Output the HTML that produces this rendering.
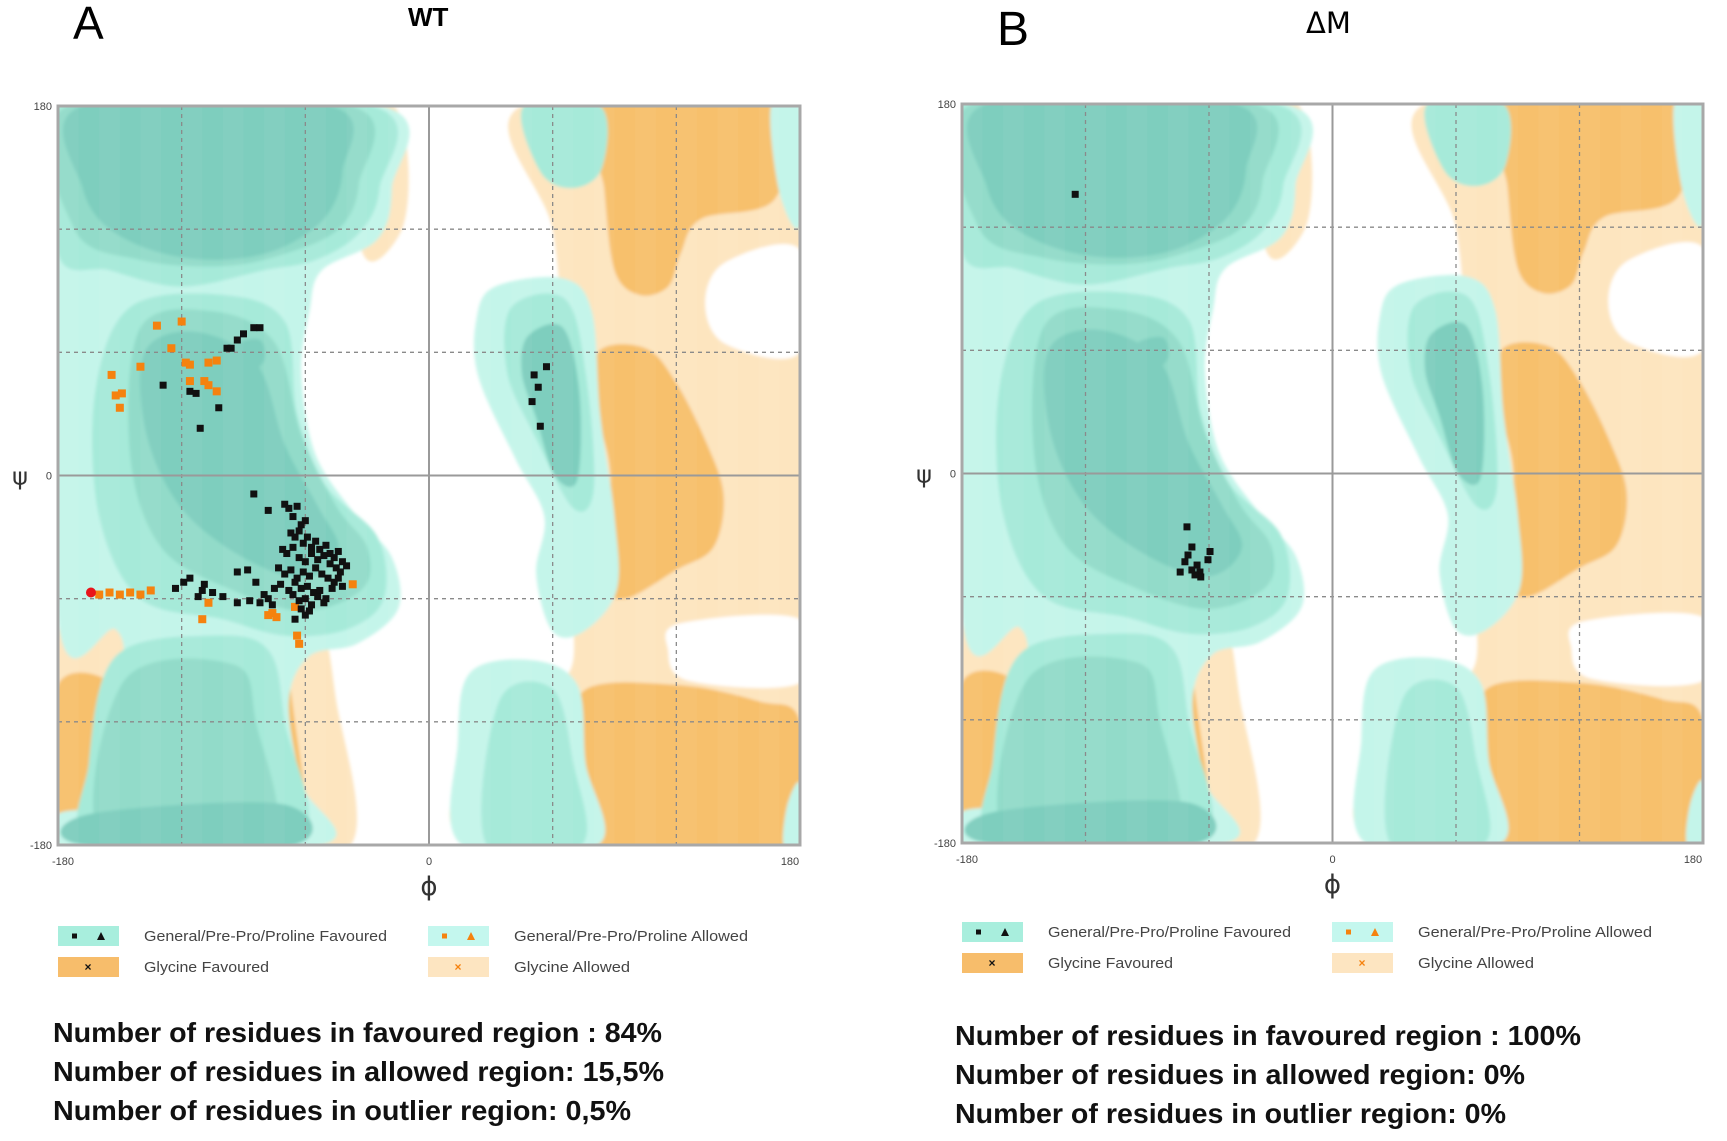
<!DOCTYPE html>
<html><head><meta charset="utf-8"><style>
html,body{margin:0;padding:0;background:#fff;}
body{width:1727px;height:1141px;overflow:hidden;font-family:"Liberation Sans",sans-serif;}
svg{position:absolute;left:0;top:0;}
</style></head><body>
<svg id="fig" width="1727" height="1141" viewBox="0 0 1727 1141" xmlns="http://www.w3.org/2000/svg">
<defs><filter id="soft" x="-5%" y="-5%" width="110%" height="110%"><feGaussianBlur stdDeviation="1.6"/></filter></defs>
</svg>
<script>
// ===== Data: panel A (WT) =====
const favPhiA = [-85,-82,-90,-93,-98,-96,-129,-116,-113,-102,-111,
 57,51,53,50,54,
 -85,-78,-70,-68,-66,-64,-62,-60,-67,-65,-63,-61,-59,-57,-55,-53,-50,-48,-46,-44,-42,-40,-71,-69,-66,-63,-60,-57,-54,-51,-48,-45,-73,-70,-67,-64,-61,-58,-55,-52,-49,-46,-43,-75,-72,-68,-65,-62,-59,-56,-53,-50,-47,-66,-63,-60,-57,-54,-51,-62,-60,-58,-65,-44,-42,
 -123,-116,-109,-105,-100,-93,-87,-82,-78,-112,-93,-88,-84,-80,-76,-119,-110];
const favPsiA = [72,72,69,66,62,62,44,41,40,33,23,
 53,49,43,36,24,
 -9,-17,-14,-16,-20,-15,-24,-22,-28,-30,-27,-33,-30,-35,-32,-36,-34,-38,-40,-37,-42,-44,-36,-38,-35,-40,-42,-38,-41,-39,-43,-45,-45,-48,-46,-50,-47,-49,-45,-48,-50,-52,-47,-55,-53,-56,-52,-55,-54,-57,-56,-60,-55,-58,-61,-60,-63,-59,-62,-65,-68,-66,-70,-50,-54,
 -55,-50,-53,-57,-59,-62,-61,-62,-60,-59,-47,-46,-52,-58,-63,-52,-56];
const allowPhiA = [-132,-120,-125,-140,-154,-152,-149,-150,-116,-116,-107,-103,-109,-107,-103,-118,
 -107,-110,-78,-76,-74,-64,-63,-37,-65,-160,-155,-150,-145,-140,-135];
const allowPsiA = [73,75,62,53,49,39,40,33,54,46,55,56,46,44,41,55,
 -62,-70,-68,-67,-69,-78,-82,-53,-64,-58,-57,-58,-57,-58,-56];
const outPhiA = [-164];
const outPsiA = [-57];
// ===== Data: panel B (ΔM) =====
const favPhiB = [-125,-70.7,-68.3,-70.2,-71.7,-74,-65.8,-64.4,-59.5,-60.5,-64,-66.8,-68.3];
const favPsiB = [136,-26,-35.8,-39.7,-43,-48,-44.6,-48,-38,-42,-50.4,-49.4,-47];
const phiTicks = ["-180","0","180"];
const psiTicks = ["180","0","-180"];

const NS="http://www.w3.org/2000/svg";
const svg=document.getElementById('fig');
function el(tag,attrs,parent,text){const e=document.createElementNS(NS,tag);for(const k in attrs)e.setAttribute(k,attrs[k]);if(text!==undefined)e.textContent=text;(parent||svg).appendChild(e);return e;}

const C={LO:'#fde5bf',DO:'#f7c06c',L1:'#c4f5ea',L2:'#a6ead9',L3:'#92dbc9',L4:'#7ecebe'};
const regions=[
 ['LO',[[225,0],[360,0],[360,360],[205,360],[196,320],[205,290],[245,280],[250,240],[245,120],[240,60]]],
 ['LO',[[0,255],[35,252],[45,290],[40,345],[20,360],[0,360]]],
 ['LO',[[95,255],[125,250],[135,290],[142,360],[82,360],[86,300]]],
 ['LO',[[140,0],[163,0],[170,30],[166,62],[148,72]]],
 ['W',[[360,70],[324,76],[314,96],[324,116],[360,120]]],
 ['W',[[360,250],[302,252],[296,265],[306,280],[360,281]]],
 ['DO',[[262,0],[350,0],[348,45],[312,55],[302,72],[296,88],[282,92],[270,80],[265,40]]],
 ['DO',[[262,120],[285,118],[300,135],[315,165],[323,190],[318,215],[300,226],[275,240],[265,230],[268,180],[262,150]]],
 ['DO',[[255,285],[300,282],[340,290],[360,300],[360,360],[255,360],[252,320]]],
 ['DO',[[0,282],[28,283],[32,320],[15,342],[0,345]]],
 ['DO',[[92,270],[108,268],[115,300],[120,360],[95,360],[90,310]]],
 ['L1',[[0,0],[157,0],[162,40],[155,65],[128,80],[122,100],[118,130],[125,170],[145,200],[162,220],[165,245],[145,262],[122,268],[112,290],[118,330],[128,360],[0,360],[0,345],[30,335],[32,280],[28,255],[0,250]]],
 ['L2',[[0,0],[152,0],[156,40],[146,62],[125,75],[100,80],[60,88],[25,80],[0,72]]],
 ['L2',[[35,98],[80,92],[110,105],[116,150],[130,185],[155,210],[158,240],[140,255],[110,258],[80,250],[40,240],[20,200],[18,140]]],
 ['L2',[[28,268],[75,258],[102,265],[110,300],[116,360],[18,360],[15,320]]],
 ['L3',[[5,0],[142,0],[146,38],[136,60],[110,72],[80,78],[40,75],[8,60]]],
 ['L3',[[40,108],[75,100],[105,115],[118,160],[135,195],[150,215],[148,235],[120,246],[85,236],[50,215],[35,170]]],
 ['L3',[[32,280],[85,272],[96,300],[102,360],[22,360]]],
 ['L4',[[12,0],[132,0],[138,32],[128,56],[100,72],[62,74],[28,62],[12,40]]],
 ['L4',[[42,120],[66,110],[96,125],[110,165],[126,195],[136,216],[120,230],[90,220],[60,196],[43,160]]],
 ['L4',[[86,116],[98,114],[100,124],[92,130],[85,124]]],
 ['L4',[[15,345],[108,340],[114,360],[12,360]]],
 ['L1',[[212,88],[245,84],[259,100],[263,150],[270,200],[271,236],[255,256],[240,256],[232,228],[236,200],[222,172],[204,132],[203,104]]],
 ['L2',[[220,98],[246,94],[256,130],[260,186],[250,196],[232,162],[218,130]]],
 ['L4',[[228,112],[245,108],[253,140],[252,182],[241,180],[232,152],[225,130]]],
 ['L1',[[200,276],[230,270],[252,282],[256,320],[262,360],[196,360],[194,310]]],
 ['L2',[[214,290],[240,284],[250,320],[254,360],[208,360]]],
 ['L2',[[226,0],[263,0],[264,30],[250,40],[234,32]]],
 ['L1',[[346,0],[360,0],[360,58],[350,42]]],
 ['L1',[[354,340],[360,330],[360,360],[352,360]]]
];
function smoothPath(pts,X,Y){const n=pts.length;const P=pts.map(p=>[X(p[0]),Y(p[1])]);let d='M'+P[0][0].toFixed(1)+','+P[0][1].toFixed(1);
 for(let i=0;i<n;i++){const p0=P[(i-1+n)%n],p1=P[i],p2=P[(i+1)%n],p3=P[(i+2)%n];
  const c1=[p1[0]+(p2[0]-p0[0])/6,p1[1]+(p2[1]-p0[1])/6],c2=[p2[0]-(p3[0]-p1[0])/6,p2[1]-(p3[1]-p1[1])/6];
  d+=`C${c1[0].toFixed(1)},${c1[1].toFixed(1)} ${c2[0].toFixed(1)},${c2[1].toFixed(1)} ${p2[0].toFixed(1)},${p2[1].toFixed(1)}`;}
 return d+'Z';}

function panel(cfg){
 const {x0,y0,w,h,name}=cfg;
 const g=el('g',{});
 
 
 const xs=phi=>x0+(phi+180)/360*w, ys=psi=>y0+(180-psi)/360*h;
 const U=u=>xs(u-180), V=v=>ys(180-v);
 const cp=el('clipPath',{id:'clip'+name},g);el('rect',{x:x0,y:y0,width:w,height:h},cp);
 const rg=el('g',{'clip-path':'url(#clip'+name+')'},g);
 el('rect',{x:x0,y:y0,width:w,height:h,fill:'#fff'},rg);
 const fg=el('g',{filter:'url(#soft)'},rg);
 regions.forEach(r=>{const p=el('path',{d:smoothPath(r[1],U,V),fill:r[0]==='W'?'#fff':C[r[0]]},fg);
  
  });
 for(let i=0;i<36;i+=2){el('rect',{x:x0+i*w/36,y:y0,width:w/36,height:h,fill:'#fff',opacity:0.04},rg);}
 [-120,-60,60,120].forEach(t=>{
  const a=el('line',{x1:xs(t),x2:xs(t),y1:y0,y2:y0+h,stroke:'#8a8a8a','stroke-width':1.3,'stroke-dasharray':'4,4'},rg);
  
  const b=el('line',{x1:x0,x2:x0+w,y1:ys(t),y2:ys(t),stroke:'#8a8a8a','stroke-width':1.3,'stroke-dasharray':'4,4'},rg);
  });
 el('line',{x1:xs(0),x2:xs(0),y1:y0,y2:y0+h,stroke:'#9a9a9a','stroke-width':2},rg);
 el('line',{x1:x0,x2:x0+w,y1:ys(0),y2:ys(0),stroke:'#9a9a9a','stroke-width':2},rg);
 const pg=el('g',{},rg);
 
 cfg.allowPhi.forEach((p,i)=>{const r=el('rect',{x:xs(p)-4,y:ys(cfg.allowPsi[i])-4,width:8,height:8,fill:'#f5820f'},pg);
  });
 cfg.favPhi.forEach((p,i)=>{const r=el('rect',{x:xs(p)-3.5,y:ys(cfg.favPsi[i])-3.5,width:7,height:7,fill:'#111'},pg);
  });
 cfg.outPhi.forEach((p,i)=>{const r=el('circle',{cx:xs(p),cy:ys(cfg.outPsi[i]),r:5,fill:'#e8141a'},pg);
  });
 el('rect',{x:x0,y:y0,width:w,height:h,fill:'none',stroke:'#a8a8a8','stroke-width':3},g);
 phiTicks.forEach((t,i)=>{const v=+t;const e=el('text',{x:xs(v)+(i==0?-6:i==2?-10:0),y:y0+h+20,'font-size':11,fill:'#444','text-anchor':i==0?'start':'middle'},g,t);
  });
 psiTicks.forEach(t=>{const v=+t;const e=el('text',{x:x0-6,y:ys(v)+4,'font-size':11,fill:'#444','text-anchor':'end'},g,t);
  });
 const ax=el('text',{x:xs(0),y:y0+h+50,'font-size':26,'font-family':'DejaVu Sans, sans-serif',fill:'#333','text-anchor':'middle'},g,'ϕ');
 
 const ay=el('text',{x:x0-38,y:ys(0)+9,'font-size':24,'font-family':'DejaVu Sans, sans-serif',fill:'#333','text-anchor':'middle'},g,'ψ');
 
}
panel({name:'wt',x0:58,y0:106,w:742,h:739,favPhi:favPhiA,favPsi:favPsiA,allowPhi:allowPhiA,allowPsi:allowPsiA,outPhi:outPhiA,outPsi:outPsiA});
panel({name:'delta-m',x0:962,y0:104,w:741,h:739,favPhi:favPhiB,favPsi:favPsiB,allowPhi:[],allowPsi:[],outPhi:[],outPsi:[]});

function txt(x,y,s,attrs,name){const e=el('text',Object.assign({x:x,y:y},attrs),svg,s);return e;}
txt(73,39,'A',{'font-size':46,fill:'#000'},'panel-label-a');
txt(408,26,'WT',{'font-size':26,'font-weight':'bold',fill:'#000'},'panel-title-wt');
txt(997,45,'B',{'font-size':48,fill:'#000'},'panel-label-b');
txt(1306,33,'ΔM',{'font-size':29,'font-family':'DejaVu Sans, sans-serif',fill:'#000'},'panel-title-delta-m');

function legend(x0,y0,name){
 const g=el('g',{});
 const rows=[[x0,y0,'#a8eedd','General/Pre-Pro/Proline Favoured','fav',243],[x0+370,y0,'#c4f7ee','General/Pre-Pro/Proline Allowed','allow',234],
  [x0,y0+31,'#f7bd6b','Glycine Favoured','glyfav',125],[x0+370,y0+31,'#fde5c1','Glycine Allowed','glyallow',116]];
 rows.forEach(r=>{const [x,y,c,s,k,tlen]=r;
  const sw=el('rect',{x:x,y:y,width:61,height:20,fill:c},g);
  const cy=y+10;
  if(k==='fav'){el('rect',{x:x+14,y:cy-2.5,width:5,height:5,fill:'#111'},g);el('polygon',{points:`${x+39},${cy+4} ${x+47},${cy+4} ${x+43},${cy-4}`,fill:'#111'},g);}
  if(k==='allow'){el('rect',{x:x+14,y:cy-2.5,width:5,height:5,fill:'#f5820f'},g);el('polygon',{points:`${x+39},${cy+4} ${x+47},${cy+4} ${x+43},${cy-4}`,fill:'#f5820f'},g);}
  if(k==='glyfav'){el('text',{x:x+30,y:cy+4,'font-size':12,'font-weight':'bold',fill:'#111','text-anchor':'middle'},g,'×');}
  if(k==='glyallow'){el('text',{x:x+30,y:cy+4,'font-size':12,'font-weight':'bold',fill:'#f5820f','text-anchor':'middle'},g,'×');}
  const t=el('text',{x:x+86,y:cy+5,'font-size':15,fill:'#444',textLength:tlen,lengthAdjust:'spacingAndGlyphs'},g,s);
 });
}
legend(58,926,'legend-wt');
legend(962,922,'legend-delta-m');

const statsA=['Number of residues in favoured region : 84%','Number of residues in allowed region: 15,5%','Number of residues in outlier region: 0,5%'];
const statsB=['Number of residues in favoured region : 100%','Number of residues in allowed region: 0%','Number of residues in outlier region: 0%'];
const lenA=[609,611,578], lenB=[626,570,551];
statsA.forEach((s,i)=>txt(53,1042+i*39,s,{'font-size':28,'font-weight':'bold',fill:'#111',textLength:lenA[i],lengthAdjust:'spacingAndGlyphs'},'stats-wt-line'));
statsB.forEach((s,i)=>txt(955,1045+i*39,s,{'font-size':28,'font-weight':'bold',fill:'#111',textLength:lenB[i],lengthAdjust:'spacingAndGlyphs'},'stats-delta-m-line'));
</script>
</body></html>
